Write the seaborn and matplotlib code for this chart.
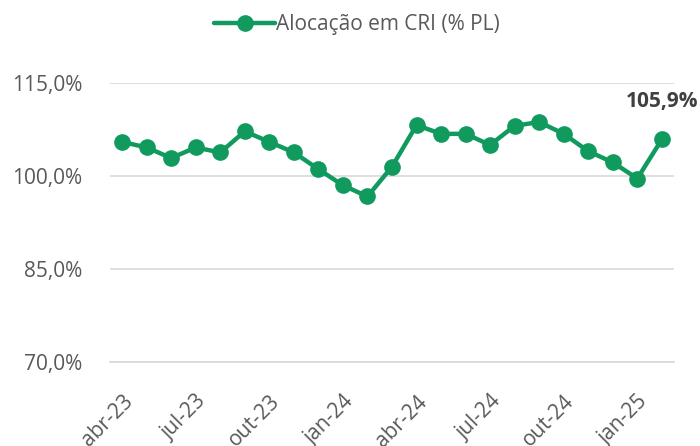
import numpy as np
import pandas as pd
import matplotlib.pyplot as plt
import seaborn as sns

# Data
months = ['abr-23', 'mai-23', 'jun-23', 'jul-23', 'ago-23', 'set-23', 'out-23', 'nov-23',
          'dez-23', 'jan-24', 'fev-24', 'mar-24', 'abr-24', 'mai-24', 'jun-24', 'jul-24',
          'ago-24', 'set-24', 'out-24', 'nov-24', 'dez-24', 'jan-25', 'fev-25']
alocacao = [105.5, 104.6, 102.9, 104.6, 103.8, 107.2, 105.5, 103.8, 101.1, 98.5, 96.7, 101.5,
            108.2, 106.8, 106.8, 105.0, 108.1, 108.7, 106.8, 104.0, 102.2, 99.6, 105.9]
yticks = [70, 85, 100, 115]
series_name = 'Alocação em CRI (% PL)'

df = pd.DataFrame({'mes': months, 'x': np.arange(len(months)), 'valor': alocacao})

sns.set_style('white')
plt.rcParams['font.family'] = ['Open Sans', 'DejaVu Sans']

green = '#109A5E'
gray_text = '#595959'
grid_col = '#D9D9D9'

fig = plt.figure(figsize=(7, 4.46), dpi=100)
ax = fig.add_axes([0.157, 0.188, 0.806, 0.626])

sns.lineplot(data=df, x='x', y='valor', ax=ax, color=green, linewidth=3.2,
             marker='o', markersize=12, markeredgewidth=0, label=series_name)

# Axes
ax.set_xlim(-0.5, len(months) - 0.5)
ax.set_ylim(70, 115)
ax.set_yticks(yticks)
ax.set_yticklabels([f'{v:.1f}%'.replace('.', ',') for v in yticks],
                   fontsize=15, color=gray_text)
ax.yaxis.grid(True, color=grid_col, linewidth=1.2)
ax.tick_params(axis='y', length=0, pad=20)

# tick marks at category boundaries, labels at every 3rd month
ax.set_xticks(np.arange(-0.5, len(months), 3))
ax.set_xticklabels([])
ax.tick_params(axis='x', which='major', length=8, width=1.2, color=grid_col, direction='out')
ax.set_xticks(np.arange(0, len(months), 3), minor=True)
ax.set_xticklabels(months[::3], minor=True, rotation=45, ha='right',
                   rotation_mode='anchor', fontsize=15, color=gray_text)
ax.tick_params(axis='x', which='minor', length=0, pad=21)
ax.set_xlabel('')
ax.set_ylabel('')

for s in ['top', 'right', 'left']:
    ax.spines[s].set_visible(False)
ax.spines['bottom'].set_color(grid_col)
ax.spines['bottom'].set_linewidth(1.2)

# Last value label
ax.annotate(f'{alocacao[-1]:.1f}%'.replace('.', ','), (df['x'].iloc[-1], alocacao[-1]),
            xytext=(0, 20), textcoords='offset points', ha='center', va='bottom',
            fontsize=15, fontweight='bold', color='#404040', annotation_clip=False)

handles, labels = ax.get_legend_handles_labels()
ax.get_legend().remove()
leg = fig.legend(handles, labels, loc='center', bbox_to_anchor=(0.51, 0.945), frameon=False,
                 fontsize=15, handlelength=2.9, handletextpad=0.05)
for t in leg.get_texts():
    t.set_color(gray_text)

fig.savefig('out.png', dpi=100)
